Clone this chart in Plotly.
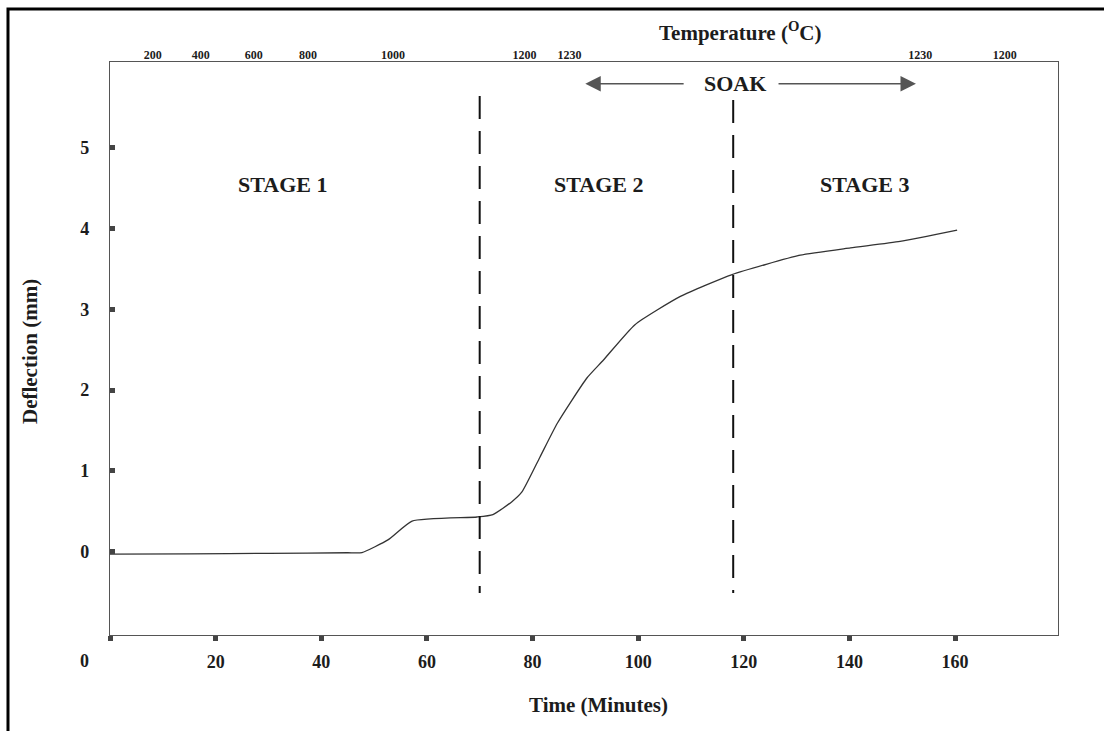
import plotly.graph_objects as go

# Creep deflection of the specimen during the firing cycle
time_min = [0, 15.0, 30.0, 45.0, 47.7, 52.7, 57.2, 69.5, 72.5, 76.1, 78.0, 81.4, 84.7,
            90.3, 93.4, 99.4, 108.0, 117.8, 130.7, 140.2, 149.6, 160.4]
deflection_mm = [-0.03, -0.025, -0.02, -0.012, -0.01, 0.15, 0.38, 0.43, 0.46, 0.62, 0.74,
                 1.17, 1.59, 2.15, 2.37, 2.81, 3.16, 3.43, 3.67, 3.76, 3.84, 3.98]

# Axis ticks
x_ticks = [0, 20, 40, 60, 80, 100, 120, 140, 160]
y_ticks = [0, 1, 2, 3, 4, 5]

# Furnace temperature readings along the time axis
temp_time = [8.1, 17.2, 27.2, 37.5, 53.6, 78.5, 87.0, 153.4, 169.4]
temp_labels = ["200", "400", "600", "800", "1000", "1200", "1230", "1230", "1200"]

# Stage boundaries and labels
stage_bounds = [70.0, 118.0]
stage_names = ["STAGE 1", "STAGE 2", "STAGE 3"]
stage_centers = [32.6, 92.4, 142.8]
soak_start, soak_end = 90.0, 152.6

X_RANGE = [0, 179.5]
Y_RANGE = [-1.03, 6.06]

FONT = "Liberation Serif, Times New Roman, serif"
INK = "#1c1c1c"

fig = go.Figure()

fig.add_trace(go.Scatter(
    x=time_min, y=deflection_mm, mode="lines",
    line=dict(color="#333333", width=1.3, shape="spline", smoothing=0.5),
    showlegend=False, hoverinfo="skip",
))

# Temperature scale drawn on a second x axis along the top
fig.add_trace(go.Scatter(x=[X_RANGE[0]], y=[Y_RANGE[0]], xaxis="x2", mode="markers",
                         marker=dict(opacity=0), showlegend=False, hoverinfo="skip"))

# Dashed stage boundaries
for xb, top in zip(stage_bounds, [5.64, 5.59]):
    fig.add_shape(type="line", xref="x", yref="y", x0=xb, x1=xb, y0=top, y1=-0.51,
                  line=dict(color="#111111", width=2, dash="23px,12px"))

# Stage labels
for name, xc in zip(stage_names, stage_centers):
    fig.add_annotation(x=xc, y=4.54, xref="x", yref="y", text=f"<b>{name}</b>",
                       xanchor="center", yanchor="middle", showarrow=False,
                       font=dict(family=FONT, size=22, color=INK))

# Soak period arrows
soak_y = 5.79
soak_mid = 118.3
fig.add_annotation(x=soak_mid, y=soak_y, xref="x", yref="y", text="<b>SOAK</b>",
                   xanchor="center", yanchor="middle", showarrow=False,
                   font=dict(family=FONT, size=22, color=INK))
fig.add_annotation(x=soak_start, y=soak_y, ax=108.9, ay=soak_y, xref="x", yref="y",
                   axref="x", ayref="y", text="", showarrow=True, arrowhead=2,
                   arrowsize=2.2, arrowwidth=1.4, arrowcolor="#555555", standoff=0)
fig.add_annotation(x=soak_end, y=soak_y, ax=126.3, ay=soak_y, xref="x", yref="y",
                   axref="x", ayref="y", text="", showarrow=True, arrowhead=2,
                   arrowsize=2.2, arrowwidth=1.4, arrowcolor="#555555", standoff=0)

# Axis titles and the origin label
fig.add_annotation(x=-0.0844, y=0.4956, xref="paper", yref="paper",
                   text="<b>Deflection (mm)</b>", textangle=-90, showarrow=False,
                   xanchor="center", yanchor="middle",
                   font=dict(family=FONT, size=21, color=INK))
fig.add_annotation(x=0.5158, y=-0.1222, xref="paper", yref="paper",
                   text="<b>Time (Minutes)</b>", showarrow=False,
                   xanchor="center", yanchor="middle",
                   font=dict(family=FONT, size=21, color=INK))
fig.add_annotation(x=0.6656, y=1.0524, xref="paper", yref="paper",
                   text="<b>Temperature (<sup>O</sup>C)</b>", showarrow=False,
                   xanchor="center", yanchor="middle",
                   font=dict(family=FONT, size=21, color=INK))
fig.add_annotation(x=-0.0264, y=-0.0454, xref="paper", yref="paper",
                   text="<b>0</b>", showarrow=False,
                   xanchor="center", yanchor="middle",
                   font=dict(family=FONT, size=18, color=INK))

# Outer frame
fig.add_shape(type="rect", xref="paper", yref="paper", x0=-0.1076, x1=1.2,
              y0=-0.4, y1=1.0925, line=dict(color="#000000", width=3))

fig.update_layout(
    width=1104, height=731,
    margin=dict(l=110, r=46, t=62, b=96),
    paper_bgcolor="white", plot_bgcolor="white",
    showlegend=False,
    xaxis=dict(
        range=X_RANGE, tickvals=x_ticks,
        ticktext=[""] + [f"<b>{v}</b>" for v in x_ticks[1:]],
        ticks="outside", ticklen=5, tickwidth=5, tickcolor="#444444",
        showline=True, linecolor="#555555", linewidth=1.2, mirror=True,
        showgrid=False, zeroline=False,
        tickfont=dict(family=FONT, size=18, color=INK), ticklabelstandoff=5,
    ),
    xaxis2=dict(
        range=X_RANGE, overlaying="x", side="top",
        tickvals=temp_time, ticktext=[f"<b>{t}</b>" for t in temp_labels],
        ticks="", showline=False, showgrid=False, zeroline=False,
        tickfont=dict(family=FONT, size=12, color=INK), ticklabelstandoff=0,
    ),
    yaxis=dict(
        range=Y_RANGE, tickvals=y_ticks,
        ticktext=[f"<b>{v}</b>" for v in y_ticks],
        ticks="inside", ticklen=5, tickwidth=5, tickcolor="#444444",
        showline=True, linecolor="#555555", linewidth=1.2, mirror=True,
        showgrid=False, zeroline=False,
        tickfont=dict(family=FONT, size=18, color=INK), ticklabelstandoff=16,
    ),
)

fig.write_html("out.html")
